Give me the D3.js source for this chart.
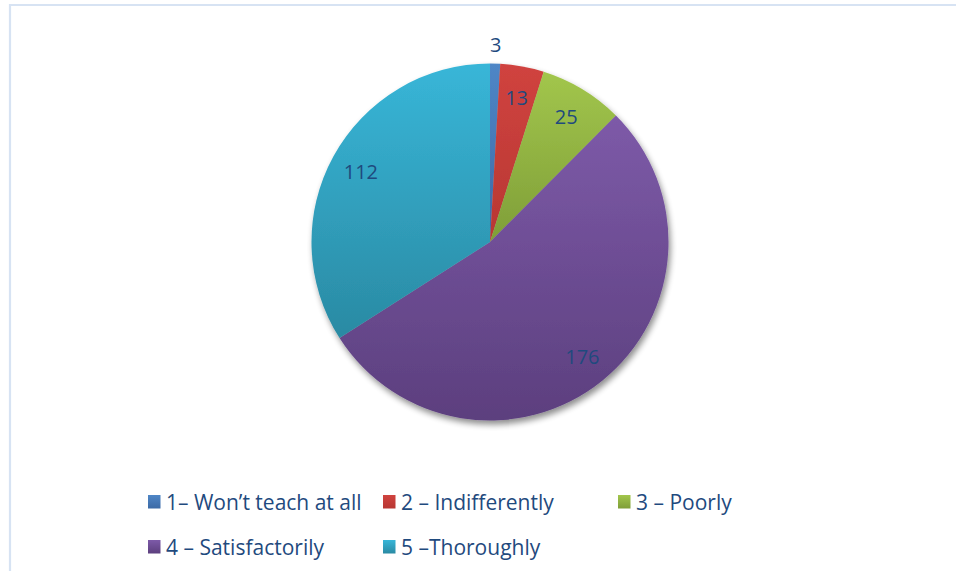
<!DOCTYPE html>
<html><head><meta charset="utf-8">
<script src="https://cdn.jsdelivr.net/npm/d3@7"></script>
<style>html,body{margin:0;padding:0;background:#fff;}svg{display:block;}</style>
</head><body>
<svg id="chart" width="956" height="571"></svg>
<script>
const categories = ["1– Won’t teach at all", "2 – Indifferently", "3 – Poorly", "4 – Satisfactorily", "5 –Thoroughly"];
const values = [3, 13, 25, 176, 112];
const topColors = ["#4f86c6", "#d0433f", "#a2c64c", "#7d5aa8", "#38b6d8"];
const bottomColors = ["#3c6aa6", "#b83733", "#7f9e38", "#5c3f7e", "#2a8aa3"];

const W = 956, H = 571;
const svg = d3.select("#chart");
const defs = svg.append("defs");

// frame
svg.append("path").attr("d", "M10,960 L10,5 L960,5").attr("fill", "none")
  .attr("stroke", "#d7e3f3").attr("stroke-width", 2.2);

const cx = 490, cy = 242, R = 178.5;

const flt = defs.append("filter").attr("id", "sh").attr("x", "-20%").attr("y", "-20%").attr("width", "140%").attr("height", "140%");
flt.append("feGaussianBlur").attr("in", "SourceAlpha").attr("stdDeviation", 3);
flt.append("feOffset").attr("dx", 2).attr("dy", 4).attr("result", "ob");
flt.append("feComponentTransfer").append("feFuncA").attr("type", "linear").attr("slope", 0.45);
const fm = flt.append("feMerge");
fm.append("feMergeNode");
fm.append("feMergeNode").attr("in", "SourceGraphic");

values.forEach((v, i) => {
  const g = defs.append("linearGradient").attr("id", "g" + i).attr("x1", 0).attr("y1", 0).attr("x2", 0).attr("y2", 1);
  g.append("stop").attr("offset", "0%").attr("stop-color", topColors[i]);
  g.append("stop").attr("offset", "100%").attr("stop-color", bottomColors[i]);
});

const pie = d3.pie().sort(null).value(d => d);
const arcs = pie(values);
const arc = d3.arc().innerRadius(0).outerRadius(R);

const gp = svg.append("g").attr("transform", `translate(${cx},${cy})`);
gp.append("g").attr("filter", "url(#sh)")
  .selectAll("path").data(arcs).join("path")
  .attr("d", arc).attr("fill", (d, i) => `url(#g${i})`);

const total = d3.sum(values);
const inArc = d3.arc().innerRadius(R * 0.825).outerRadius(R * 0.825);
const outArc = d3.arc().innerRadius(R + 19).outerRadius(R + 19);
gp.selectAll("text.lbl").data(arcs).join("text").attr("class", "lbl")
  .attr("transform", d => `translate(${(d.data / total < 0.02 ? outArc : inArc).centroid(d)})`)
  .attr("text-anchor", "middle").attr("dominant-baseline", "central")
  .attr("font-family", "'Open Sans', Lato, sans-serif").attr("font-size", 20)
  .attr("fill", "#1f4a7e").text(d => d.data);

// legend
const cols = [148, 383, 618];
const rows = [502, 547];
const lg = svg.append("g");
categories.forEach((c, i) => {
  const x = cols[i % 3], y = rows[Math.floor(i / 3)];
  lg.append("rect").attr("x", x).attr("y", y - 7).attr("width", 12.5).attr("height", 13.5)
    .attr("fill", `url(#g${i})`);
  lg.append("text").attr("x", x + 18).attr("y", y).attr("dominant-baseline", "central")
    .attr("font-family", "'Open Sans', Lato, sans-serif").attr("font-size", 21)
    .attr("fill", "#1f4a7e").text(c);
});
</script>
</body></html>
